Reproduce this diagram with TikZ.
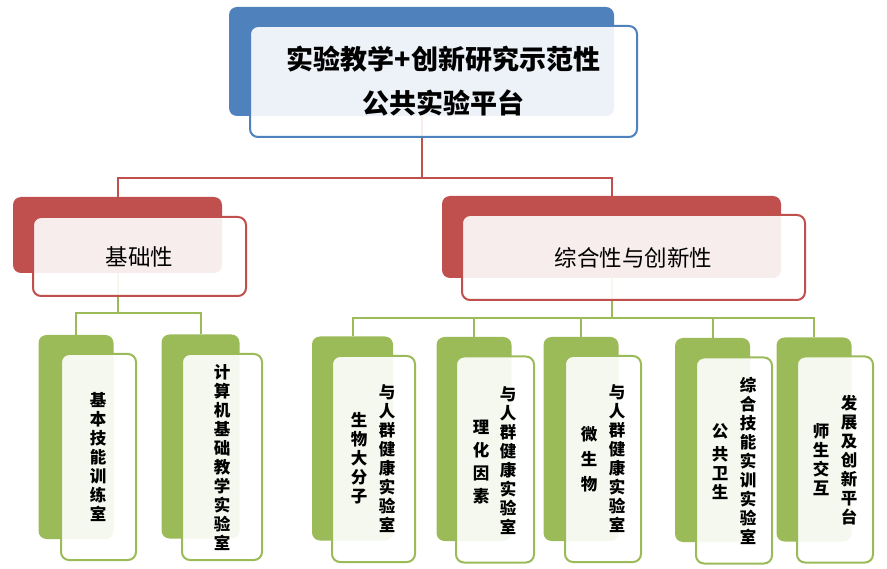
\documentclass[tikz,border=0pt]{standalone}
\usepackage{fontspec}
\newfontfamily\cjk{Noto Sans CJK SC}
\usetikzlibrary{calc}
\definecolor{topblue}{HTML}{4F81BD}
\definecolor{midred}{HTML}{C0504D}
\definecolor{leafgreen}{HTML}{9BBB59}

\begin{document}
\begin{tikzpicture}[x=1pt, y=-1pt,
    shadebox/.style={rounded corners=8pt, inner sep=0pt, fill=#1},
    facebox/.style={rounded corners=8pt, inner sep=0pt, draw=#1, line width=2pt,
                    fill=white, fill opacity=0.9, text opacity=1},
    vtext/.style={align=center, inner sep=0pt, font=\cjk\bfseries\fontsize{16.5}{19}\selectfont},
    link/.style={line width=2pt, draw=#1}]
    \useasboundingbox (0,0) rectangle (887,569);

    % draw back boxes
    \node[shadebox=topblue, minimum width=385, minimum height=109] (platb) at (421.5,61.5) {};
    \node[shadebox=midred, minimum width=209, minimum height=76] (basicb) at (117.5,235) {};
    \node[shadebox=midred, minimum width=339, minimum height=82] (compb) at (611.5,237) {};
    \foreach \nm/\bx/\by/\w in {skill/76/437/75, comp/200.5/436.5/78, bio/352.5/438.5/81,
                                phys/474/439/75, micro/581/439/75, pub/712.5/440/75, dev/814/439.5/75}
      \node[shadebox=leafgreen, minimum width=\w, minimum height=204] (b\nm) at (\bx,\by) {};

    % draw connectors
    \coordinate (busa) at (0,178);
    \draw[link=midred] (platb.south) -- (platb.south |- busa) -| (basicb.north);
    \draw[link=midred] (platb.south |- busa) -| (compb.north);
    \coordinate (busb) at (0,313);
    \draw[link=leafgreen] (basicb.south) -- (basicb.south |- busb) -| (bskill.north);
    \draw[link=leafgreen] (basicb.south |- busb) -| (bcomp.north);
    \coordinate (busc) at (0,318);
    \foreach \nm in {bio,phys,micro,pub,dev}
      \draw[link=leafgreen] (compb.south) -- (compb.south |- busc) -| (b\nm.north);

    % draw front boxes
    \node[facebox=topblue, minimum width=387, minimum height=111, align=center,
          font=\cjk\bfseries\fontsize{27}{44}\selectfont] (platf) at (443.5,81.5)
          {实验教学+创新研究示范性\\公共实验平台};
    \node[facebox=midred, minimum width=213, minimum height=79,
          font=\cjk\fontsize{22.5}{26}\selectfont] (basicf) at (139.5,256.5) {基础性};
    \node[facebox=midred, minimum width=343, minimum height=85,
          font=\cjk\fontsize{22.5}{26}\selectfont] (compf) at (633.5,257.5) {综合性与创新性};
    \foreach \nm/\fx/\fy/\w in {skill/98.5/457/75, comp/222/457/80, bio/373.5/459/83,
                                phys/495/459.5/78, micro/603/459/76, pub/734/460.5/76, dev/835/459.5/76}
      \node[facebox=leafgreen, minimum width=\w, minimum height=206] (f\nm) at (\fx,\fy) {};

    % draw vertical texts
    \node[vtext] (tskill) at (98,457) {基\\本\\技\\能\\训\\练\\室};
    \node[vtext] (tcomp) at (222,457.5) {计\\算\\机\\基\\础\\教\\学\\实\\验\\室};
    \node[vtext] (tbioa) at (387,459) {与\\人\\群\\健\\康\\实\\验\\室};
    \node[vtext] (tbiob) at (359,458.5) {生\\物\\大\\分\\子};
    \node[vtext] (tphysa) at (508,460.5) {与\\人\\群\\健\\康\\实\\验\\室};
    \node[vtext, font=\cjk\bfseries\fontsize{16.5}{23}\selectfont] (tphysb) at (481,462) {理\\化\\因\\素};
    \node[vtext] (tmicroa) at (617,459) {与\\人\\群\\健\\康\\实\\验\\室};
    \node[vtext, font=\cjk\bfseries\fontsize{16.5}{25}\selectfont] (tmicrob) at (589,459.5) {微\\生\\物};
    \node[vtext] (tpuba) at (748,461) {综\\合\\技\\能\\实\\训\\实\\验\\室};
    \node[vtext] (tpubb) at (720,462) {公\\[4pt]共\\卫\\生};
    \node[vtext] (tdeva) at (849,460.5) {发\\展\\及\\创\\新\\平\\台};
    \node[vtext] (tdevb) at (821,460) {师\\生\\交\\互};
\end{tikzpicture}
\end{document}
